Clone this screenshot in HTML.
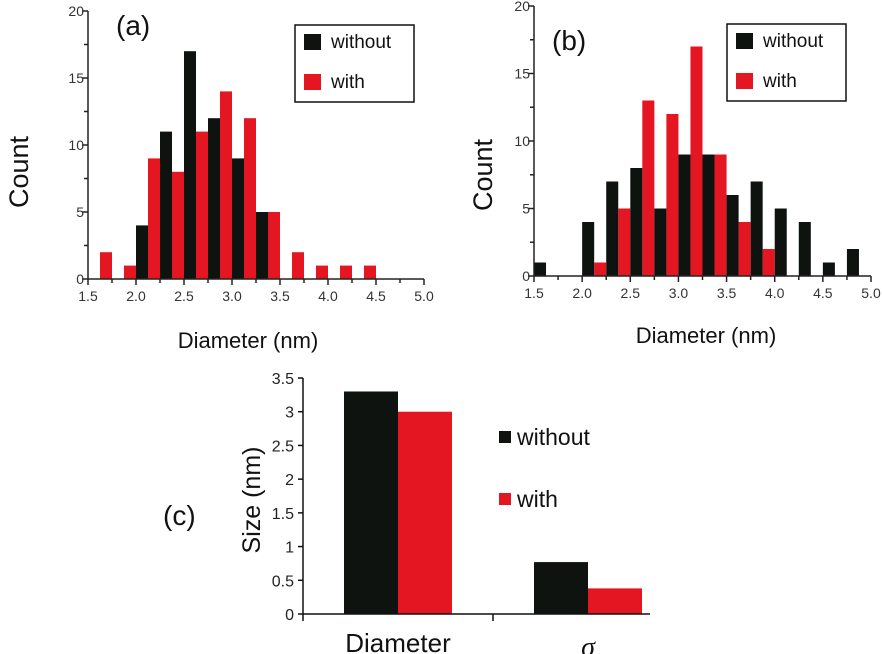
<!DOCTYPE html>
<html><head><meta charset="utf-8"><style>
html,body{margin:0;padding:0;background:#fff}
svg{display:block;font-family:"Liberation Sans",sans-serif}
</style></head><body>
<svg id="fig" width="882" height="654" viewBox="0 0 882 654" xmlns="http://www.w3.org/2000/svg"></svg>
<script>
// Panel (a) data
const aBlackEdges=[2.0,2.25,2.5,2.75,3.0,3.25];
const aBlackCounts=[4,11,17,12,9,5];
const aRedEdges=[1.625,1.875,2.125,2.375,2.625,2.875,3.125,3.375,3.625,3.875,4.125,4.375];
const aRedCounts=[2,1,9,8,11,14,12,5,2,1,1,1];
// Panel (b) data
const bBlackEdges=[1.5,2.0,2.25,2.5,2.75,3.0,3.25,3.5,3.75,4.0,4.25,4.5,4.75];
const bBlackCounts=[1,4,7,8,5,9,9,6,7,5,4,1,2];
const bRedEdges=[2.125,2.375,2.625,2.875,3.125,3.375,3.625,3.875];
const bRedCounts=[1,5,13,12,17,9,4,2];
const xTickLabels=["1.5","2.0","2.5","3.0","3.5","4.0","4.5","5.0"];
const yTickLabels=["0","5","10","15","20"];
// Panel (c) data
const cCategories=["Diameter","σ"];
const cWithout=[3.3,0.77];
const cWith=[3.0,0.38];
const cTickLabels=["0","0.5","1","1.5","2","2.5","3","3.5"];

const NS="http://www.w3.org/2000/svg";
const svg=document.getElementById('fig');
function mk(tag,attrs,parent,text){const e=document.createElementNS(NS,tag);for(const k in attrs)e.setAttribute(k,attrs[k]);if(text!==undefined)e.textContent=text;(parent||svg).appendChild(e);return e;}
const BLK="#0f1310",RED="#e31622";

function hist(o){
  const g=mk('g',{});
  
  
  const X=v=>o.x0+(v-1.5)*(o.x1-o.x0)/3.5;
  const Y=v=>o.y0-v*(o.y0-o.y1)/20;
  const w=X(1.625)-X(1.5);
  o.rE.forEach((e,i)=>{const r=mk('rect',{x:X(e),y:Y(o.rC[i]),width:w,height:o.y0-Y(o.rC[i]),fill:RED},g);
    });
  o.bE.forEach((e,i)=>{const r=mk('rect',{x:X(e),y:Y(o.bC[i]),width:w,height:o.y0-Y(o.bC[i]),fill:BLK},g);
    });
  const ax=mk('g',{stroke:'#222','stroke-width':1.5},g);
  
  mk('line',{x1:o.x0,y1:o.y0,x2:o.x1,y2:o.y0},ax);
  mk('line',{x1:o.x0,y1:o.y0,x2:o.x0,y2:o.y1},ax);
  for(let k=0;k<=14;k++){const v=1.5+k*0.25;const len=k%2?4:6;mk('line',{x1:X(v),y1:o.y0,x2:X(v),y2:o.y0+len},ax);}
  for(let k=0;k<=8;k++){const v=k*2.5;const len=k%2?4:6;mk('line',{x1:o.x0,y1:Y(v),x2:o.x0-len,y2:Y(v)},ax);}
  xTickLabels.forEach((t,i)=>{const e=mk('text',{x:X(1.5+i*0.5),y:o.y0+22,'font-size':14,'text-anchor':'middle',fill:'#333'},g,t);
    });
  yTickLabels.forEach((t,i)=>{const e=mk('text',{x:o.x0-4,y:Y(i*5)+5,'font-size':14,'text-anchor':'end',fill:'#333'},g,t);
    });
  let e=mk('text',{x:o.xt[0],y:o.xt[1],'font-size':22,'text-anchor':'middle',fill:'#111'},g,'Diameter (nm)');
  
  e=mk('text',{x:o.yt[0],y:o.yt[1],'font-size':27,'text-anchor':'middle',fill:'#111',transform:`rotate(-90 ${o.yt[0]} ${o.yt[1]})`},g,'Count');
  
  e=mk('text',{x:o.lab[0],y:o.lab[1],'font-size':28,fill:'#111'},g,o.label);
  
  const lg=mk('g',{},g);
  const [lx,ly]=o.leg;
  mk('rect',{x:lx,y:ly,width:119,height:77,fill:'#fff',stroke:'#111','stroke-width':1.5},lg);
  mk('rect',{x:lx+9,y:ly+9,width:17,height:16,fill:BLK},lg);
  mk('text',{x:lx+36,y:ly+23,'font-size':19,fill:'#111'},lg,'without');
  mk('rect',{x:lx+9,y:ly+49,width:17,height:16,fill:RED},lg);
  mk('text',{x:lx+36,y:ly+63,'font-size':19,fill:'#111'},lg,'with');
}
hist({name:'panel-a',x0:88,x1:424,y0:279,y1:11,rE:aRedEdges,rC:aRedCounts,bE:aBlackEdges,bC:aBlackCounts,
  xt:[248,348],yt:[28,172],lab:[116,35],label:'(a)',leg:[295,25]});
hist({name:'panel-b',x0:534,x1:871,y0:276,y1:6,rE:bRedEdges,rC:bRedCounts,bE:bBlackEdges,bC:bBlackCounts,
  xt:[706,343],yt:[492,175],lab:[552,50],label:'(b)',leg:[727,24]});

// Panel (c)
(function(){
  const g=mk('g',{});
  const x0=303,y0=614,yTop=378,catW=190;
  const Y=v=>y0-v*(y0-yTop)/3.5;
  const bw=54;
  cCategories.forEach((c,i)=>{
    const bx=x0+i*catW+41;
    let r=mk('rect',{x:bx,y:Y(cWithout[i]),width:bw,height:y0-Y(cWithout[i]),fill:BLK},g);
    
    r=mk('rect',{x:bx+bw,y:Y(cWith[i]),width:bw,height:y0-Y(cWith[i]),fill:RED},g);
    
    const t=mk('text',{x:x0+i*catW+95,y:i?656:652,'font-size':i?28:26,'text-anchor':'middle',fill:'#111','font-style':i?'italic':'normal','font-family':i?'"Liberation Serif",serif':'"Liberation Sans",sans-serif'},g,c);
    
  });
  const ax=mk('g',{stroke:'#111','stroke-width':1.5},g);
  mk('line',{x1:x0,y1:y0,x2:650,y2:y0},ax);
  mk('line',{x1:x0,y1:y0+7,x2:x0,y2:yTop},ax);
  mk('line',{x1:x0+catW,y1:y0,x2:x0+catW,y2:y0+7},ax);
  cTickLabels.forEach((t,i)=>{mk('line',{x1:x0-5,y1:Y(i*0.5),x2:x0,y2:Y(i*0.5)},ax);
    const e=mk('text',{x:x0-9,y:Y(i*0.5)+6,'font-size':16,'text-anchor':'end',fill:'#222'},g,t);
    });
  let e=mk('text',{x:260,y:500,'font-size':25,'text-anchor':'middle',fill:'#111',transform:'rotate(-90 260 500)'},g,'Size (nm)');
  
  e=mk('text',{x:163,y:525,'font-size':28,fill:'#111'},g,'(c)');
  
  const lg=mk('g',{},g);
  mk('rect',{x:499,y:431,width:12,height:12,fill:BLK},lg);
  mk('text',{x:517,y:445,'font-size':23,fill:'#111'},lg,'without');
  mk('rect',{x:499,y:493,width:12,height:12,fill:RED},lg);
  mk('text',{x:517,y:507,'font-size':23,fill:'#111'},lg,'with');
})();
</script>
</body></html>
